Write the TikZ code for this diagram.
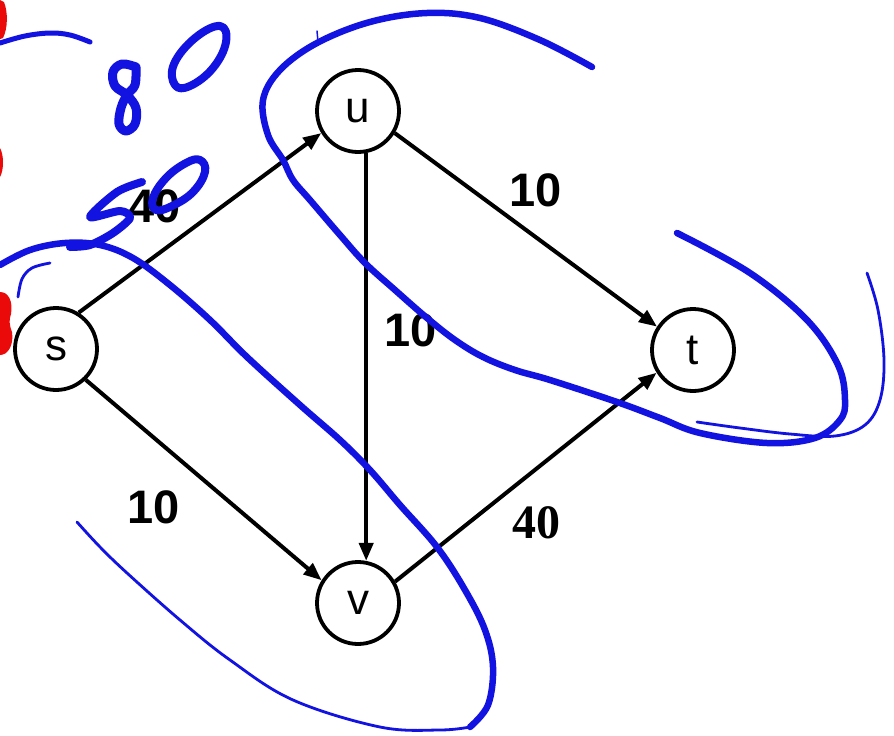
\documentclass[tikz,border=0pt]{standalone}
\usepackage{fontspec}
\setmainfont{Liberation Sans}
\newfontfamily\serifnum{Liberation Serif}
\usetikzlibrary{arrows.meta}
\definecolor{pen}{RGB}{18,18,225}
\definecolor{redpen}{RGB}{235,10,10}
\tikzset{
  vertex/.style={draw=black,circle,line width=3.8pt,minimum size=82pt,inner sep=0pt,
    font=\fontsize{44}{48}\selectfont},
  edge/.style={line width=4pt,-{Triangle[length=18pt,width=14pt]}},
  wlabel/.style={font=\fontsize{47}{50}\selectfont\bfseries,inner sep=0pt},
  thickpen/.style={pen,line width=6.5pt,line cap=round,line join=round},
  thinpen/.style={pen,line width=2.8pt,line cap=round,line join=round},
  digitpen/.style={pen,line width=8pt,line cap=round,line join=round},
}
\begin{document}
\begin{tikzpicture}[x=1pt,y=-1pt]
\useasboundingbox (0,0) rectangle (894,736);
\fill[white] (0,0) rectangle (894,736);

% nodes
\node[vertex] (s) at (56,349) {s};
\node[vertex] (u) at (358,111) {u};
\node[vertex] (t) at (693,350) {t};
\node[vertex] (v) at (358,603) {v};

% edges
\draw[edge] (s.58) -- (u.211);
\draw[edge] (u.-31) -- (t.147);
\draw[edge] (u.-79) -- (v.79);
\draw[edge] (s.-46) -- (v.148);
\draw[edge] (v.30) -- (t.212);

% weights
\node[wlabel] (w1) at (155,206) {40};
\node[wlabel] (w2) at (536,190) {10};
\node[wlabel] (w3) at (411,330) {10};
\node[wlabel] (w4) at (154,507) {10};
\node[wlabel,font=\fontsize{48}{50}\selectfont\serifnum\bfseries] (w5) at (536,523) {40};

% blue cut around u and t
\draw[thickpen] plot[smooth,tension=0.6] coordinates {
 (592,67) (540,40) (480,18) (427,13) (370,22) (317,43) (280,70) (263,100)
 (268,135) (283,160) (293,180) (310,200) (340,235) (365,263) (395,290) (427,318)
 (455,340) (483,357) (515,370) (550,380) (617,402) (660,418) (700,433)
 (767,443) (815,438) (840,420) (845,400) (838,365) (807,320) (750,273) (677,233)};
\draw[thinpen,line width=1.5pt] (317,31) -- (318,42);
\draw[thinpen] plot[smooth,tension=0.6] coordinates {
 (697,422) (740,428) (790,434) (835,436) (865,425) (880,400) (884,360) (878,310) (867,273)};

% blue cut around s and v
\draw[thickpen] plot[smooth,tension=0.6] coordinates {
 (0,265) (30,250) (65,243) (100,245) (133,258) (170,285) (210,320) (247,357)
 (300,405) (340,440) (370,470) (400,505) (437,547) (465,590) (485,630)
 (493,667) (488,705) (470,727)};
\draw[thinpen] plot[smooth,tension=0.6] coordinates {
 (470,727) (440,730) (380,727) (293,700) (230,660) (180,620) (127,573) (100,547) (77,522)};
\draw[thinpen] plot[smooth,tension=0.6] coordinates {(18,297) (22,279) (32,268) (50,263)};

% top-left stroke
\draw[thickpen,line width=5pt] plot[smooth,tension=0.6] coordinates {(0,43) (25,36) (50,33) (70,35) (90,42)};

% handwritten 80
\draw[digitpen,line width=9pt] plot[smooth,tension=0.6] coordinates {
 (136,67) (122,64) (113,72) (115,86) (127,95) (136,108) (135,124) (126,131)
 (119,124) (121,108) (127,95) (135,85) (136,67)};
\draw[digitpen] plot[smooth cycle,tension=0.7] coordinates {
 (220,26) (226,42) (213,68) (190,86) (175,85) (174,64) (195,38)};

% handwritten 50
\draw[digitpen] plot[smooth,tension=0.5] coordinates {
 (142,182) (117,192) (90,217) (120,211) (130,218) (113,233) (90,245) (70,247)};
\draw[digitpen] plot[smooth cycle,tension=0.7] coordinates {
 (200,160) (205,172) (193,192) (172,206) (156,210) (153,198) (166,178) (186,163)};

% red marks at the left edge
\fill[redpen] (0,0) -- (4,2) .. controls (8,12) and (8,28) .. (3,38) -- (0,39) -- cycle;
\fill[redpen] (0,148) .. controls (4,155) and (4,170) .. (0,177) -- cycle;
\fill[redpen] (0,292) .. controls (9,292) and (13,302) .. (11,314)
  .. controls (9,320) and (9,324) .. (12,332)
  .. controls (14,345) and (8,355) .. (0,355) -- cycle;
\end{tikzpicture}
\end{document}
